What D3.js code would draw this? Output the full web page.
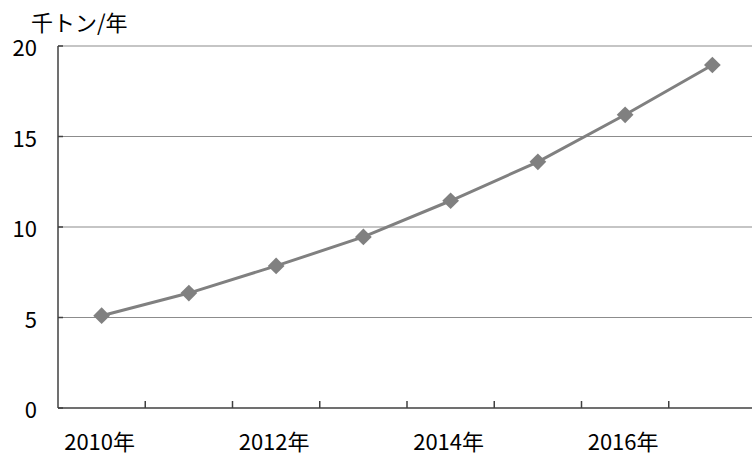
<!DOCTYPE html>
<html lang="ja">
<head>
<meta charset="utf-8">
<title>千トン/年</title>
<script src="https://cdn.jsdelivr.net/npm/d3@7"></script>
<style>
  body{margin:0;background:#fff;}
  text{font-family:"Noto Sans CJK JP","Noto Sans",sans-serif;fill:#000;}
</style>
</head>
<body>
<div id="chart"></div>
<script>
// data
var years = [2010, 2011, 2012, 2013, 2014, 2015, 2016, 2017]
var values = [5.1, 6.35, 7.85, 9.45, 11.45, 13.6, 16.2, 18.95]
var yTicks = [0, 5, 10, 15, 20]
var xLabelYears = [2010, 2012, 2014, 2016]
var unitLabel = "千トン/年"

var w = 752, h = 455
var plotLeft = 58, plotRight = 756, plotTop = 46, plotBottom = 408

var svg = d3.select("#chart").append("svg")
  .attr("width", w).attr("height", h)

var xScale = d3.scaleBand().domain(years).range([plotLeft, plotRight])
var yScale = d3.scaleLinear().domain([0, 20]).range([plotBottom, plotTop])

// gridlines
svg.append("g").selectAll("line")
  .data(yTicks.filter(function(d){ return d > 0 }))
  .enter().append("line")
  .attr("x1", plotLeft).attr("x2", plotRight)
  .attr("y1", function(d){ return yScale(d) })
  .attr("y2", function(d){ return yScale(d) })
  .attr("stroke", "#8c8c8c").attr("stroke-width", 1.2)

// y axis
svg.append("line")
  .attr("x1", plotLeft).attr("x2", plotLeft)
  .attr("y1", yScale(20)).attr("y2", yScale(0))
  .attr("stroke", "#404040").attr("stroke-width", 1.5)
svg.append("g").selectAll("line")
  .data(yTicks)
  .enter().append("line")
  .attr("x1", plotLeft).attr("x2", plotLeft + 5)
  .attr("y1", function(d){ return yScale(d) })
  .attr("y2", function(d){ return yScale(d) })
  .attr("stroke", "#404040").attr("stroke-width", 1.5)
svg.append("g").selectAll("text")
  .data(yTicks)
  .enter().append("text")
  .attr("x", 37)
  .attr("y", function(d){ return yScale(d) + 10 })
  .attr("text-anchor", "end")
  .style("font-size", "22px")
  .text(function(d){ return d })

// x axis
svg.append("line")
  .attr("x1", plotLeft).attr("x2", plotRight)
  .attr("y1", plotBottom).attr("y2", plotBottom)
  .attr("stroke", "#404040").attr("stroke-width", 1.5)
svg.append("g").selectAll("line")
  .data(years.slice(1))
  .enter().append("line")
  .attr("x1", function(d){ return xScale(d) })
  .attr("x2", function(d){ return xScale(d) })
  .attr("y1", plotBottom).attr("y2", plotBottom - 7)
  .attr("stroke", "#404040").attr("stroke-width", 1.5)
svg.append("g").selectAll("text")
  .data(xLabelYears)
  .enter().append("text")
  .attr("x", function(d){ return xScale(d) + xScale.bandwidth() / 2 - 2 })
  .attr("y", 450)
  .attr("text-anchor", "middle")
  .style("font-size", "22px")
  .text(function(d){ return d + "年" })

// unit label
svg.append("text")
  .attr("x", 31).attr("y", 31)
  .style("font-size", "22px")
  .text(unitLabel)

// series
var line = d3.line()
  .x(function(d, i){ return xScale(years[i]) + xScale.bandwidth() / 2 })
  .y(function(d){ return yScale(d) })

svg.append("path")
  .datum(values)
  .attr("d", line)
  .attr("fill", "none")
  .attr("stroke", "#808080")
  .attr("stroke-width", 3)

svg.append("g").selectAll("path")
  .data(values)
  .enter().append("path")
  .attr("d", d3.symbol().type(d3.symbolSquare).size(140))
  .attr("transform", function(d, i){
    return "translate(" + (xScale(years[i]) + xScale.bandwidth() / 2) + "," + yScale(d) + ") rotate(45)"
  })
  .attr("fill", "#808080")
</script>
</body>
</html>
